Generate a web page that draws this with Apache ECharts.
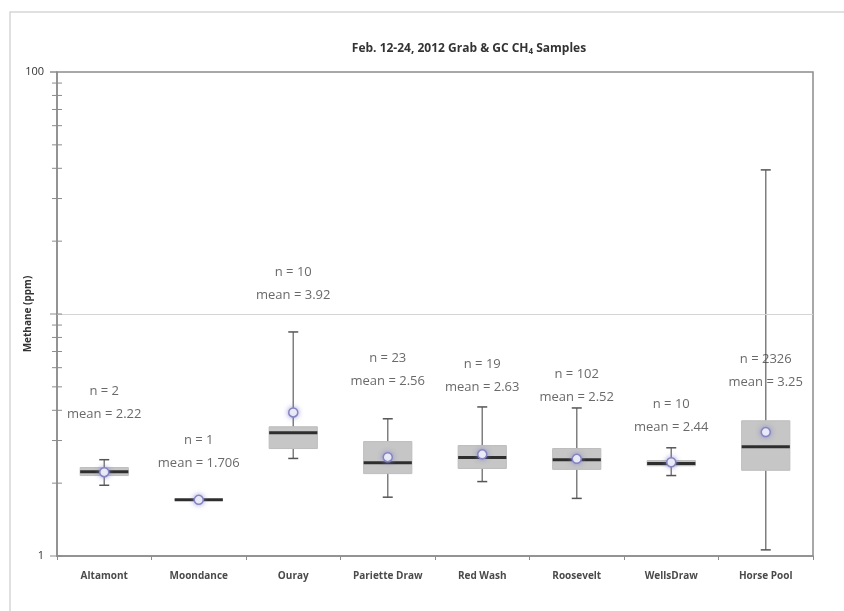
<!DOCTYPE html>
<html>
<head>
<meta charset="utf-8">
<script src="https://cdn.jsdelivr.net/npm/echarts@6/dist/echarts.min.js"></script>
<style>
  html, body { margin: 0; padding: 0; background: #fff; }
  #chart { width: 844px; height: 611px; }
</style>
</head>
<body>
<div id="chart"></div>
<script>
// sampling sites
const cats = ["Altamont", "Moondance", "Ouray", "Pariette Draw", "Red Wash", "Roosevelt", "WellsDraw", "Horse Pool"];
// box statistics (ppm)
const whiskerLow = [1.96, 1.706, 2.53, 1.75, 2.03, 1.73, 2.15, 1.06];
const q1 = [2.15, 1.706, 2.78, 2.19, 2.30, 2.28, 2.36, 2.26];
const median = [2.23, 1.706, 3.23, 2.43, 2.55, 2.50, 2.41, 2.83];
const q3 = [2.32, 1.706, 3.42, 2.97, 2.86, 2.78, 2.48, 3.62];
const whiskerHigh = [2.50, 1.706, 8.43, 3.69, 4.13, 4.09, 2.80, 39.4];
const means = [2.22, 1.706, 3.92, 2.56, 2.63, 2.52, 2.44, 3.25];
// annotation text
const counts = [2, 1, 10, 23, 19, 102, 10, 2326];
const meanText = ["2.22", "1.706", "3.92", "2.56", "2.63", "2.52", "2.44", "3.25"];
// y ticks
const majorTicks = [1, 10, 100];

// where each "n / mean" note sits (axis units)
const noteAt = [4.29, 2.69, 13.3, 5.90, 5.57, 5.04, 3.79, 5.81];

const gridLeft = 57, gridTop = 72, gridRight = 31, gridBottom = 55;
const font = "'Open Sans', 'Liberation Sans', sans-serif";

const chart = echarts.init(document.getElementById("chart"));

const boxData = cats.map((c, i) => [i, whiskerLow[i], q1[i], median[i], q3[i], whiskerHigh[i]]);

const option = {
  animation: false,
  backgroundColor: "#fff",
  title: {
    text: "Feb. 12-24, 2012 Grab & GC CH{sub|4} Samples",
    left: 464,
    top: 37,
    textAlign: "center",
    textStyle: {
      fontFamily: font,
      fontSize: 12,
      fontWeight: "bold",
      color: "#333",
      rich: {
        sub: { fontSize: 8, fontWeight: "bold", color: "#333", fontFamily: font, verticalAlign: "bottom", padding: [6, 0, 0, 0] },
      },
    },
  },
  grid: {
    left: gridLeft,
    top: gridTop,
    right: gridRight,
    bottom: gridBottom,
    outerBoundsMode: "none",
    containLabel: false,
    show: true,
    borderColor: "#8c8c8c",
    borderWidth: 1.5,
  },
  xAxis: {
    type: "category",
    data: cats,
    boundaryGap: true,
    axisLine: { lineStyle: { color: "#8c8c8c", width: 1.5 } },
    axisTick: { show: true, length: 4, lineStyle: { color: "#8c8c8c" } },
    axisLabel: {
      fontFamily: font,
      fontSize: 10,
      fontWeight: "bold",
      color: "#4a4a4a",
      margin: 15,
    },
  },
  yAxis: {
    type: "log",
    logBase: 10,
    min: 1,
    max: 100,
    name: "Methane (ppm)",
    nameLocation: "middle",
    nameRotate: 90,
    nameGap: 24,
    nameMoveOverlap: false,
    nameTextStyle: { fontFamily: font, fontSize: 10, fontWeight: "bold", color: "#333" },
    axisLine: { show: true, lineStyle: { color: "#8c8c8c", width: 1.5 } },
    axisTick: { show: false },
    splitLine: { show: false },
    axisLabel: {
      fontFamily: font,
      fontSize: 11,
      color: "#333",
      margin: 13,
      formatter: (v) => (Math.abs(v - 10) < 1e-6 ? "" : String(Math.round(v))),
    },
  },
  series: [
    {
      type: "custom",
      silent: true,
      data: boxData,
      encode: { x: 0, y: [1, 2, 3, 4, 5] },
      markLine: {
        silent: true,
        symbol: "none",
        label: { show: false },
        lineStyle: { color: "#d4d4d4", width: 1, type: "solid" },
        data: [{ yAxis: 10 }],
      },
      renderItem: (params, api) => {
        const x = api.value(0);
        const pLow = api.coord([x, api.value(1)]);
        const pQ1 = api.coord([x, api.value(2)]);
        const pMed = api.coord([x, api.value(3)]);
        const pQ3 = api.coord([x, api.value(4)]);
        const pHigh = api.coord([x, api.value(5)]);
        const cx = pMed[0];
        const w = (params.coordSys.width / cats.length) * 0.51;
        const cap = 10;
        const grey = "#7f7f7f";
        return {
          type: "group",
          children: [
            {
              type: "line",
              shape: { x1: cx, y1: pHigh[1], x2: cx, y2: pQ3[1] },
              style: { stroke: grey, lineWidth: 1.5 },
            },
            {
              type: "line",
              shape: { x1: cx, y1: pQ1[1], x2: cx, y2: pLow[1] },
              style: { stroke: grey, lineWidth: 1.5 },
            },
            {
              type: "line",
              shape: { x1: cx - cap / 2, y1: pHigh[1], x2: cx + cap / 2, y2: pHigh[1] },
              style: { stroke: "#555", lineWidth: 1.5 },
            },
            {
              type: "line",
              shape: { x1: cx - cap / 2, y1: pLow[1], x2: cx + cap / 2, y2: pLow[1] },
              style: { stroke: "#555", lineWidth: 1.5 },
            },
            {
              type: "rect",
              shape: { x: cx - w / 2, y: pQ3[1], width: w, height: pQ1[1] - pQ3[1] },
              style: { fill: "#c6c6c6", stroke: "#bdbdbd", lineWidth: 1 },
            },
            {
              type: "line",
              shape: { x1: cx - w / 2, y1: pMed[1], x2: cx + w / 2, y2: pMed[1] },
              style: { stroke: "#2e2e2e", lineWidth: 3 },
            },
          ],
        };
      },
      z: 2,
    },
    {
      type: "scatter",
      silent: true,
      data: means.map((m, i) => [i, m]),
      symbol: "circle",
      symbolSize: 9,
      itemStyle: {
        color: "#fff",
        borderColor: "#8484c0",
        borderWidth: 1.5,
        shadowBlur: 5,
        shadowColor: "rgba(130,130,210,0.7)",
        opacity: 1,
      },
      z: 3,
    },
    {
      type: "scatter",
      silent: true,
      data: noteAt.map((v, i) => [i, v]),
      symbolSize: 0,
      label: {
        show: true,
        position: "inside",
        fontFamily: font,
        fontSize: 13,
        lineHeight: 23,
        color: "#444",
        formatter: (p) => "n = " + counts[p.dataIndex] + "\nmean = " + meanText[p.dataIndex],
      },
      z: 4,
    },
  ],
};

chart.setOption(option);

// outer frame and log tick marks (placed through the axes)
const c0 = chart.convertToPixel({ xAxisIndex: 0 }, cats[0]);
const c1 = chart.convertToPixel({ xAxisIndex: 0 }, cats[1]);
const axisX = c0 - (c1 - c0) / 2;
const graphics = [
  {
    type: "rect",
    silent: true,
    shape: { x: 10, y: 12, width: 900, height: 700 },
    style: { fill: "none", stroke: "#d6d6d6", lineWidth: 1.5 },
    z: 0,
  },
];
for (let d = 0; d < 2; d++) {
  for (let k = 1; k <= 9; k++) {
    const v = k * Math.pow(10, d);
    const y = chart.convertToPixel({ yAxisIndex: 0 }, v);
    const major = k === 1;
    graphics.push({
      type: "line",
      silent: true,
      shape: { x1: axisX - (major ? 7 : 5), y1: y, x2: axisX + 5, y2: y },
      style: { stroke: "#8c8c8c", lineWidth: 1 },
      z: 100,
    });
  }
}
const yTop = chart.convertToPixel({ yAxisIndex: 0 }, majorTicks[2]);
graphics.push({
  type: "line",
  silent: true,
  shape: { x1: axisX - 7, y1: yTop, x2: axisX, y2: yTop },
  style: { stroke: "#8c8c8c", lineWidth: 1.5 },
  z: 100,
});
chart.setOption({ graphic: graphics });
</script>
</body>
</html>
